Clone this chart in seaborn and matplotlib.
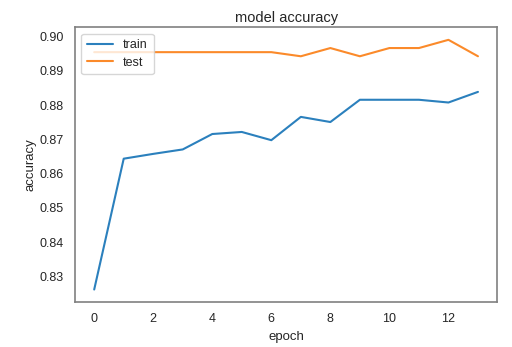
import matplotlib
matplotlib.use("Agg")
import matplotlib.pyplot as plt
import seaborn as sns
import pandas as pd

epochs = list(range(14))
train_acc = [0.8262, 0.8644, 0.8658, 0.8671, 0.8716, 0.8722, 0.8698,
             0.8766, 0.8751, 0.8816, 0.8816, 0.8816, 0.8808, 0.8839]
test_acc = [0.8955, 0.8955, 0.8955, 0.8955, 0.8955, 0.8955, 0.8955,
            0.8943, 0.8967, 0.8943, 0.8967, 0.8967, 0.8991, 0.8943]

sns.set_style("white")
plt.rcParams['font.family'] = ['Liberation Sans', 'DejaVu Sans']

fig = plt.figure(figsize=(5.12, 3.47), dpi=100)
ax = fig.add_axes([0.1465, 0.1297, 0.8245, 0.7915])

df = pd.DataFrame({"epoch": epochs + epochs,
                   "accuracy": train_acc + test_acc,
                   "set": ["train"] * len(epochs) + ["test"] * len(epochs)})
sns.lineplot(data=df, x="epoch", y="accuracy", hue="set",
             palette=["#2b80bd", "#fb8a2a"], linewidth=1.5, ax=ax)

ax.set_title("model accuracy", fontsize=10.5, color="#262626", pad=4)
ax.set_xlabel("epoch", fontsize=9.5, color="#262626", labelpad=4)
ax.set_ylabel("accuracy", fontsize=9.5, color="#262626", labelpad=2)
ax.tick_params(labelsize=9, colors="#262626", length=0, pad=8)
ax.set_xticks([0, 2, 4, 6, 8, 10, 12])
ax.set_yticks([0.83, 0.84, 0.85, 0.86, 0.87, 0.88, 0.89, 0.90])
ax.set_yticklabels([f"{v:.2f}" for v in [0.83, 0.84, 0.85, 0.86, 0.87, 0.88, 0.89, 0.90]])
for s in ax.spines.values():
    s.set_color("#808080")
    s.set_linewidth(1.2)

leg = ax.legend(loc="upper left", fontsize=9, frameon=True, title=None,
                handlelength=2.1, borderpad=0.45, labelspacing=0.45)
leg.get_frame().set_edgecolor("#cccccc")

fig.savefig("out.png", dpi=100)
